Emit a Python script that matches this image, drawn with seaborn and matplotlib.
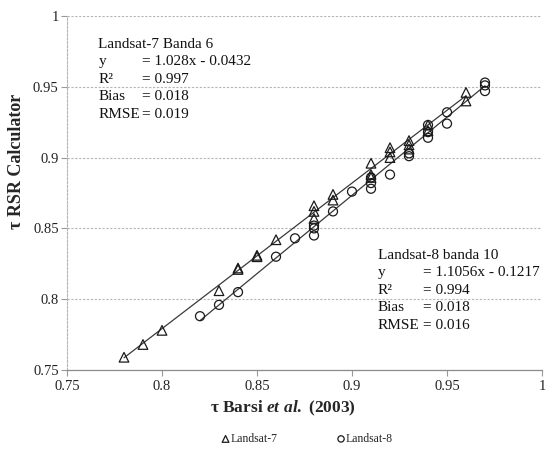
import matplotlib.pyplot as plt
import seaborn as sns
import pandas as pd
import numpy as np

# Landsat-7 (banda 6) – tau Barsi vs tau RSR Calculator
l7_x = [0.78, 0.79, 0.80, 0.83, 0.84, 0.84, 0.85, 0.85, 0.86, 0.88, 0.88, 0.88,
        0.89, 0.89, 0.91, 0.91, 0.91, 0.92, 0.92, 0.92, 0.93, 0.93, 0.93,
        0.94, 0.94, 0.96, 0.96]
l7_y = [0.759, 0.768, 0.778, 0.806, 0.822, 0.821, 0.831, 0.830, 0.842, 0.866, 0.862, 0.857,
        0.874, 0.870, 0.896, 0.888, 0.886, 0.907, 0.904, 0.900, 0.912, 0.909, 0.906,
        0.923, 0.919, 0.946, 0.940]

# Landsat-8 (banda 10)
l8_x = [0.82, 0.83, 0.84, 0.86, 0.87, 0.88, 0.88, 0.88, 0.89, 0.90, 0.91, 0.91, 0.91,
        0.92, 0.93, 0.93, 0.94, 0.94, 0.94, 0.95, 0.95, 0.97, 0.97, 0.97]
l8_y = [0.788, 0.796, 0.805, 0.830, 0.843, 0.852, 0.850, 0.845, 0.862, 0.876, 0.886, 0.882, 0.878,
        0.888, 0.903, 0.901, 0.923, 0.918, 0.914, 0.932, 0.924, 0.953, 0.951, 0.947]

# ajustes lineares (linha de tendência)
fit_slope = [1.028, 1.1056]
fit_intercept = [-0.0432, -0.1217]

stats_l7 = [("Landsat-7 Banda 6", ""), ("y", "= 1.028x - 0.0432"), ("R²", "= 0.997"),
            ("Bias", "= 0.018"), ("RMSE", "= 0.019")]
stats_l8 = [("Landsat-8 banda 10", ""), ("y", "= 1.1056x - 0.1217"), ("R²", "= 0.994"),
            ("Bias", "= 0.018"), ("RMSE", "= 0.016")]

df7 = pd.DataFrame({"x": l7_x, "y": l7_y})
df8 = pd.DataFrame({"x": l8_x, "y": l8_y})

sns.set_style("white")
plt.rcParams['font.family'] = ['Liberation Serif', 'DejaVu Serif']
plt.rcParams['mathtext.fontset'] = 'custom'
plt.rcParams['mathtext.it'] = 'Liberation Serif:italic:bold'
plt.rcParams['mathtext.rm'] = 'Liberation Serif:bold'

fig = plt.figure(figsize=(5.46, 4.54), dpi=100)
ax = fig.add_axes([67/546, 84/454, 475/546, 354/454])

# linhas de tendência
for d, a, b in [(df7, fit_slope[0], fit_intercept[0]), (df8, fit_slope[1], fit_intercept[1])]:
    xs = np.array([d.x.min(), d.x.max()])
    sns.lineplot(x=xs, y=a * xs + b, ax=ax, color='#3a3a3a', linewidth=0.9, zorder=2)

sns.scatterplot(data=df7, x="x", y="y", ax=ax, marker='^', s=48, color='none',
                edgecolor='#1a1a1a', linewidth=0.9, label='Landsat-7', zorder=3)
sns.scatterplot(data=df8, x="x", y="y", ax=ax, marker='o', s=42, color='none',
                edgecolor='#1a1a1a', linewidth=0.9, label='Landsat-8', zorder=3)

ax.set_xlim(0.75, 1.0)
ax.set_ylim(0.75, 1.0)
ax.set_xticks([0.75, 0.8, 0.85, 0.9, 0.95, 1.0])
ax.set_xticklabels(['0.75', '0.8', '0.85', '0.9', '0.95', '1'])
ax.set_yticks([0.75, 0.8, 0.85, 0.9, 0.95, 1.0])
ax.set_yticklabels(['0.75', '0.8', '0.85', '0.9', '0.95', '1'])
ax.tick_params(axis='both', labelsize=10.5, labelcolor='#222222', length=4,
               width=0.8, color='#999999', direction='out', left=True, bottom=True)
ax.tick_params(axis='y', pad=2)
ax.yaxis.grid(True, linestyle=(0, (2, 1.5)), color='#b5b5b5', linewidth=0.8)
ax.xaxis.grid(False)
for sp in ['top', 'right']:
    ax.spines[sp].set_visible(False)
ax.spines['left'].set_linestyle((0, (2, 1.5)))
ax.spines['left'].set_color('#b5b5b5')
ax.spines['left'].set_linewidth(0.8)
ax.spines['bottom'].set_color('#8c8c8c')
ax.spines['bottom'].set_linewidth(0.9)

ax.set_xlabel(r"τ Barsi $\it{et\ al.}$ (2003)", fontsize=12.5, fontweight='bold')
ax.set_ylabel("τ RSR Calculator", fontsize=13, fontweight='bold')
ax.xaxis.set_label_coords((283 - 67) / 475, -(399 - 370) / 354)
ax.yaxis.set_label_coords(-(67 - 25) / 475, (370 - 161) / 354)

# caixas de estatísticas
def stats_block(lines, x0, x1, y0, step=0.01236):
    for i, (lab, val) in enumerate(lines):
        y = y0 - i * step
        ax.text(x0, y, lab, fontsize=11, va='center', ha='left', color='#111111')
        if val:
            ax.text(x1, y, val, fontsize=11, va='center', ha='left', color='#111111')

stats_block(stats_l7, 0.7665, 0.7895, 0.980)
stats_block(stats_l8, 0.9135, 0.9375, 0.831)

handles, labels = ax.get_legend_handles_labels()
if ax.get_legend():
    ax.get_legend().remove()
fig.legend(handles, labels, loc='center', bbox_to_anchor=(0.562, 0.033), ncol=2,
           frameon=False, fontsize=8.5, markerscale=0.7, handletextpad=0.0,
           columnspacing=5.0, handlelength=0.8)

fig.savefig('out.png', dpi=100)
